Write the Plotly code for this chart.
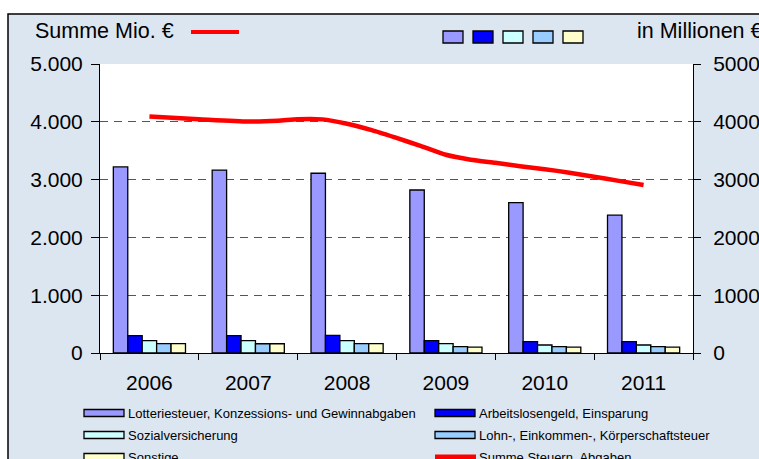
import plotly.graph_objects as go

# Daten (Mio. €)
jahre = ["2006", "2007", "2008", "2009", "2010", "2011"]
lotterie = [3220, 3165, 3110, 2820, 2600, 2385]
arbeitslosengeld = [300, 300, 305, 213, 196, 196]
sozialversicherung = [213, 213, 213, 161, 138, 138]
lohn_steuer = [161, 160, 161, 109, 109, 109]
sonstige = [161, 160, 161, 100, 100, 100]

# Summe Steuern, Abgaben (unterjaehrig)
summe_zeit = [2006.0, 2006.5, 2007.0, 2007.3, 2007.5, 2007.75, 2008.0, 2008.25, 2008.5,
              2008.75, 2009.0, 2009.25, 2009.5, 2009.75, 2010.0, 2010.25, 2010.5, 2010.75, 2011.0]
summe_werte = [4090, 4045, 4005, 4020, 4045, 4042, 3965, 3855, 3720,
               3580, 3430, 3345, 3290, 3232, 3180, 3120, 3050, 2978, 2905]

namen = ["Lotteriesteuer, Konzessions- und Gewinnabgaben", "Arbeitslosengeld, Einsparung",
         "Sozialversicherung", "Lohn-, Einkommen-, Körperschaftsteuer", "Sonstige"]
linien_name = "Summe Steuern, Abgaben"
farben = ["#9999FF", "#0000FF", "#CCFFFF", "#99CCFF", "#FFFFCC"]
reihen = [lotterie, arbeitslosengeld, sozialversicherung, lohn_steuer, sonstige]

FONT = "Arial, Liberation Sans, sans-serif"
# Grafik etwas breiter als das Fenster, damit "in Millionen €" wie im Original angeschnitten wird
W, H = 790, 459
L, T = 100, 64
R, B = W - 693, H - 353
PW, PH = W - L - R, H - T - B


# Bildschirm-Pixel -> paper-Koordinaten
def px(x):
    return (x - L) / PW


def py(y):
    return (H - B - y) / PH


fig = go.Figure()

for name, werte, farbe in zip(namen, reihen, farben):
    fig.add_trace(go.Bar(x=jahre, y=werte, name=name, marker_color=farbe,
                         marker_line=dict(color="black", width=1.3), showlegend=False))

fig.add_trace(go.Scatter(x=summe_zeit, y=summe_werte, name=linien_name, mode="lines",
                         line=dict(color="#FF0000", width=4.5, shape="spline", smoothing=0.6),
                         xaxis="x2", yaxis="y2", showlegend=False))

shapes = [
    # Hintergrund mit Rahmen
    dict(type="rect", xref="paper", yref="paper", x0=px(8), x1=px(830), y0=py(14), y1=py(500),
         fillcolor="#DCE6F1", line=dict(color="black", width=1.5), layer="below"),
    # Plotflaeche
    dict(type="rect", xref="paper", yref="paper", x0=0, x1=1, y0=0, y1=1,
         fillcolor="white", line=dict(width=0), layer="below"),
    # rote Linie oben links
    dict(type="line", xref="paper", yref="paper", x0=px(191), x1=px(239), y0=py(32), y1=py(32),
         line=dict(color="#FF0000", width=4)),
]

# kleine Kaestchen oben
for i, farbe in enumerate(farben):
    x0 = 443 + i * 30
    shapes.append(dict(type="rect", xref="paper", yref="paper", x0=px(x0), x1=px(x0 + 20),
                       y0=py(31), y1=py(43), fillcolor=farbe, line=dict(color="black", width=1.3)))

annotations = [
    dict(text="Summe Mio. €", x=px(33), y=py(31), xref="paper", yref="paper",
         xanchor="left", yanchor="middle", showarrow=False, font=dict(size=21.5, color="black")),
    dict(text="in Millionen €", x=px(635), y=py(31), xref="paper", yref="paper",
         xanchor="left", yanchor="middle", showarrow=False, font=dict(size=21.5, color="black")),
]

# Legende unten (zwei Spalten)
leg_eintraege = list(zip(namen, farben)) + [(linien_name, None)]
spalten_x = [84, 435]
zeilen_y = [413, 435, 457]
for k, (name, farbe) in enumerate(leg_eintraege):
    sx = spalten_x[k % 2]
    sy = zeilen_y[k // 2]
    if farbe is None:
        shapes.append(dict(type="line", xref="paper", yref="paper", x0=px(sx), x1=px(sx + 41),
                           y0=py(sy), y1=py(sy), line=dict(color="#FF0000", width=5)))
    else:
        shapes.append(dict(type="rect", xref="paper", yref="paper", x0=px(sx), x1=px(sx + 40),
                           y0=py(sy - 3.5), y1=py(sy + 3.5), fillcolor=farbe,
                           line=dict(color="black", width=1.3)))
    annotations.append(dict(text=name, x=px(sx + 42), y=py(sy), xref="paper", yref="paper",
                            xanchor="left", yanchor="middle", showarrow=False,
                            font=dict(size=13, color="black")))

fig.update_layout(
    width=W, height=H,
    margin=dict(l=L, r=R, t=T, b=B),
    paper_bgcolor="white",
    plot_bgcolor="white",
    font=dict(family=FONT, color="black"),
    separators=",.",
    barmode="group",
    bargap=0.27,
    bargroupgap=0,
    showlegend=False,
    shapes=shapes,
    annotations=annotations,
    xaxis=dict(type="category", tickson="boundaries", ticks="outside", ticklen=6,
               tickcolor="black", showline=True, linecolor="black", linewidth=1,
               showgrid=False, tickfont=dict(size=21), ticklabelstandoff=11, fixedrange=True),
    xaxis2=dict(range=[2005.5, 2011.5], overlaying="x", visible=False),
    yaxis=dict(range=[0, 5000], tickvals=[0, 1000, 2000, 3000, 4000, 5000], tickformat=",d",
               ticks="outside", ticklen=8, tickcolor="black", showline=True, linecolor="black",
               linewidth=1, showgrid=True, gridcolor="#555555", griddash="8px,6px", gridwidth=1,
               zeroline=False, tickfont=dict(size=21), ticklabelstandoff=4),
    yaxis2=dict(range=[0, 5000], tickvals=[0, 1000, 2000, 3000, 4000, 5000], tickformat="d",
                overlaying="y", side="right", ticks="outside", ticklen=7, tickcolor="black",
                showline=True, linecolor="black", linewidth=1, showgrid=False, zeroline=False,
                tickfont=dict(size=21), ticklabelstandoff=8),
)

# Seitenrand entfernen, damit die Grafik bei (0,0) beginnt und keine Scrollbalken erscheinen
fig.write_html("out.html", config={"displayModeBar": False},
               post_script="document.body.style.margin='0';document.body.style.overflow='hidden';")
